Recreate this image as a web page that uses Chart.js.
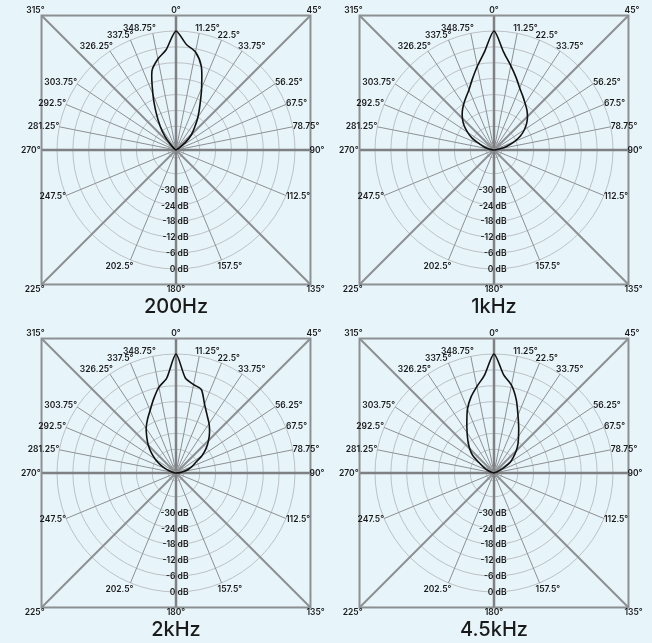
<!DOCTYPE html>
<html><head><meta charset="utf-8">
<script src="https://cdn.jsdelivr.net/npm/chart.js@4/dist/chart.umd.min.js"></script>
<style>
html,body{margin:0;padding:0;background:#e7f4fa;}
#wrap{position:relative;width:652px;height:643px;overflow:hidden;background:#e7f4fa;}
.panel{position:absolute;}
canvas{display:block;}
</style></head><body>
<div id="wrap">
 <div class="panel" style="left:0;top:0"><canvas id="c0" width="326" height="321"></canvas></div>
 <div class="panel" style="left:326px;top:0"><canvas id="c1" width="326" height="321"></canvas></div>
 <div class="panel" style="left:0;top:321px"><canvas id="c2" width="326" height="322"></canvas></div>
 <div class="panel" style="left:326px;top:321px"><canvas id="c3" width="326" height="322"></canvas></div>
</div>
<script>
// Measurement angles (degrees, clockwise from front)
const ANGLES = [
  0, 5.625, 11.25, 16.875, 22.5, 28.125, 33.75, 39.375,
  45, 50.625, 56.25, 61.875, 67.5, 73.125, 78.75, 84.375,
  90, 95.625, 101.25, 106.875, 112.5, 118.125, 123.75, 129.375,
  135, 140.625, 146.25, 151.875, 157.5, 163.125, 168.75, 174.375,
  180, 185.625, 191.25, 196.875, 202.5, 208.125, 213.75, 219.375,
  225, 230.625, 236.25, 241.875, 247.5, 253.125, 258.75, 264.375,
  270, 275.625, 281.25, 286.875, 292.5, 298.125, 303.75, 309.375,
  315, 320.625, 326.25, 331.875, 337.5, 343.125, 348.75, 354.375
];
// Angle tick labels shown on the chart
const LABELED_ANGLES = [0, 11.25, 22.5, 33.75, 45, 56.25, 67.5, 78.75, 90, 112.5, 135, 157.5,
  180, 202.5, 225, 247.5, 270, 281.25, 292.5, 303.75, 315, 326.25, 337.5, 348.75];
const AXIS_ANGLES = [0, 45, 90, 135, 180, 225, 270, 315];
const RING_DB = [-42, -36, -30, -24, -18, -12, -6, 0];
const DB_TICKS = [-30, -24, -18, -12, -6, 0];
const DB_MIN = -45, DB_MAX = 0;
const TITLES = ['200Hz', '1kHz', '2kHz', '4.5kHz'];

// Polar response in dB, one value per entry of ANGLES
const HZ200 = [
  0, -4.9, -7.2, -12.0, -19.7, -25.8, -30.1, -33.9,
  -36.7, -40, -43.5, -45, -45, -45, -45, -45,
  -45, -45, -45, -45, -45, -45, -45, -45,
  -45, -45, -45, -45, -45, -45, -45, -45,
  -45, -45, -45, -45, -45, -45, -45, -45,
  -45, -45, -45, -45, -45, -45, -45, -45,
  -45, -45, -45, -45, -45, -45, -45, -44,
  -42.3, -38.5, -34.3, -29.1, -22.2, -13.7, -9.9, -6.9
];
const KHZ1 = [
  0, -7.8, -12.5, -16.3, -19.6, -21.9, -23.8, -25.4,
  -27.1, -29, -31.2, -33.6, -36.5, -39.7, -42.3, -44.5,
  -45, -45, -45, -45, -45, -45, -45, -45,
  -45, -45, -45, -45, -45, -45, -45, -45,
  -45, -45, -45, -45, -45, -45, -45, -45,
  -45, -45, -45, -45, -45, -45, -45, -45,
  -45, -44.5, -43, -41.1, -39.2, -35.7, -33, -30.3,
  -28.1, -26.1, -24.3, -22.5, -20.3, -16.9, -12.7, -7.8
];
const KHZ2 = [
  0, -8.9, -10.9, -12.0, -16.8, -20.1, -22.5, -25.0,
  -27.6, -30.2, -33.2, -36.6, -38.4, -40.1, -41.8, -43.5,
  -45, -45, -45, -45, -45, -45, -45, -45,
  -45, -45, -45, -45, -45, -45, -45, -45,
  -45, -45, -45, -45, -45, -45, -45, -45,
  -45, -45, -45, -45, -45, -45, -45, -45,
  -45, -44.8, -44, -42.5, -40.6, -38.1, -35.5, -32.9,
  -30.2, -27.6, -24.7, -22.1, -19.4, -15.8, -11.9, -9.0
];
const KHZ45 = [
  0, -7.7, -11.1, -16.0, -21.3, -25.2, -28.3, -30.7,
  -33.1, -35.5, -37.6, -40.7, -43.5, -45, -45, -45,
  -45, -45, -45, -45, -45, -45, -45, -45,
  -45, -45, -45, -45, -45, -45, -45, -45,
  -45, -45, -45, -45, -45, -45, -45, -45,
  -45, -45, -45, -45, -45, -45, -45, -45,
  -45, -45, -45, -44, -42.5, -40.7, -38.7, -34.6,
  -32, -29.5, -26.7, -23.2, -18.8, -15.0, -11.7, -7.9
];
const SERIES = [HZ200, KHZ1, KHZ2, KHZ45];

const FONT = "Inter, 'Open Sans', sans-serif";
const TEXT = '#1a1a1a';
const BOX_RATIO = 1.13;

const deco = {
  id: 'deco',
  beforeDatasetsDraw(chart) {
    const s = chart.scales.r, ctx = chart.ctx;
    const cx = s.xCenter, cy = s.yCenter, R = s.drawingArea, B = R * BOX_RATIO;
    ctx.save();
    AXIS_ANGLES.forEach(a => {
      const p = s.getPointPosition(ANGLES.indexOf(a), 1);
      const ux = p.x - cx, uy = p.y - cy;
      const k = B / Math.max(Math.abs(ux), Math.abs(uy));
      ctx.beginPath();
      ctx.moveTo(cx, cy);
      ctx.lineTo(cx + ux * k, cy + uy * k);
      ctx.lineWidth = a % 90 === 0 ? 2.5 : 2;
      ctx.strokeStyle = a % 90 === 0 ? '#7e8083' : '#8d9092';
      ctx.stroke();
    });
    ctx.lineWidth = 2;
    ctx.strokeStyle = '#8d9092';
    ctx.strokeRect(cx - B, cy - B, 2 * B, 2 * B);
    ctx.restore();
  },
  afterDatasetsDraw(chart, args, opts) {
    const s = chart.scales.r, ctx = chart.ctx;
    const cx = s.xCenter, cy = s.yCenter, R = s.drawingArea, B = R * BOX_RATIO;
    ctx.save();
    ctx.fillStyle = TEXT;
    ctx.font = '600 8.5px ' + FONT;
    LABELED_ANGLES.forEach(a => {
      const p0 = s.getPointPosition(ANGLES.indexOf(a), 1);
      const ux = p0.x - cx, uy = p0.y - cy;
      const onBox = AXIS_ANGLES.includes(a);
      const k = onBox ? B / Math.max(Math.abs(ux), Math.abs(uy)) : R;
      const px = cx + ux * k, py = cy + uy * k;
      let align = Math.abs(ux) < 0.01 ? 'center' : (ux > 0 ? 'left' : 'right');
      let x = px, y = py, base;
      if (Math.abs(uy) >= 0.7) {
        if (align !== 'center') x -= ux > 0 ? 4 : -3;
        base = 'alphabetic';
        y = uy < 0 ? py - (onBox ? 2.5 : 2) : py + (onBox ? 8 : 9);
      } else {
        base = 'middle';
        y = py + uy * 3;
        if (onBox) x -= 1;
      }
      ctx.textAlign = align;
      ctx.textBaseline = base;
      ctx.fillText(a + '°', x, y);
    });
    ctx.textAlign = 'right';
    ctx.textBaseline = 'middle';
    DB_TICKS.forEach(v => {
      const r = s.getDistanceFromCenterForValue(v);
      ctx.fillText(v + ' dB', cx + 12.5, cy + r + 0.5);
    });
    ctx.font = '500 20px ' + FONT;
    ctx.textAlign = 'center';
    ctx.textBaseline = 'middle';
    ctx.fillText(opts.title, cx, cy + 157);
    ctx.restore();
  }
};

const PADS = [
  {left: 57, right: 31, top: 31, bottom: 52},
  {left: 49, right: 39, top: 31, bottom: 52},
  {left: 57, right: 31, top: 33, bottom: 51},
  {left: 49, right: 39, top: 33, bottom: 51}
];

SERIES.forEach((vals, k) => {
  new Chart(document.getElementById('c' + k), {
    type: 'radar',
    data: {
      labels: ANGLES.map(a => a + '°'),
      datasets: [{
        label: TITLES[k],
        data: vals,
        borderColor: '#111111',
        borderWidth: 1.6,
        fill: false,
        pointRadius: 0,
        pointHoverRadius: 0,
        tension: 0.25
      }]
    },
    options: {
      responsive: false,
      animation: false,
      events: [],
      layout: {padding: PADS[k]},
      plugins: {legend: {display: false}, tooltip: {enabled: false}, deco: {title: TITLES[k]}},
      scales: {
        r: {
          min: DB_MIN,
          max: DB_MAX,
          startAngle: 0,
          ticks: {display: false},
          pointLabels: {display: false},
          afterBuildTicks: sc => { sc.ticks = RING_DB.map(v => ({value: v})); },
          grid: {circular: true, color: '#bcc1c4', lineWidth: 1},
          angleLines: {
            color: c => (LABELED_ANGLES.includes(ANGLES[c.index]) && ANGLES[c.index] % 45 !== 0) ? '#8c9093' : 'rgba(0,0,0,0)',
            lineWidth: c => (LABELED_ANGLES.includes(ANGLES[c.index]) && ANGLES[c.index] % 45 !== 0) ? 1 : 0
          }
        }
      }
    },
    plugins: [deco]
  });
});
</script>
</body></html>
